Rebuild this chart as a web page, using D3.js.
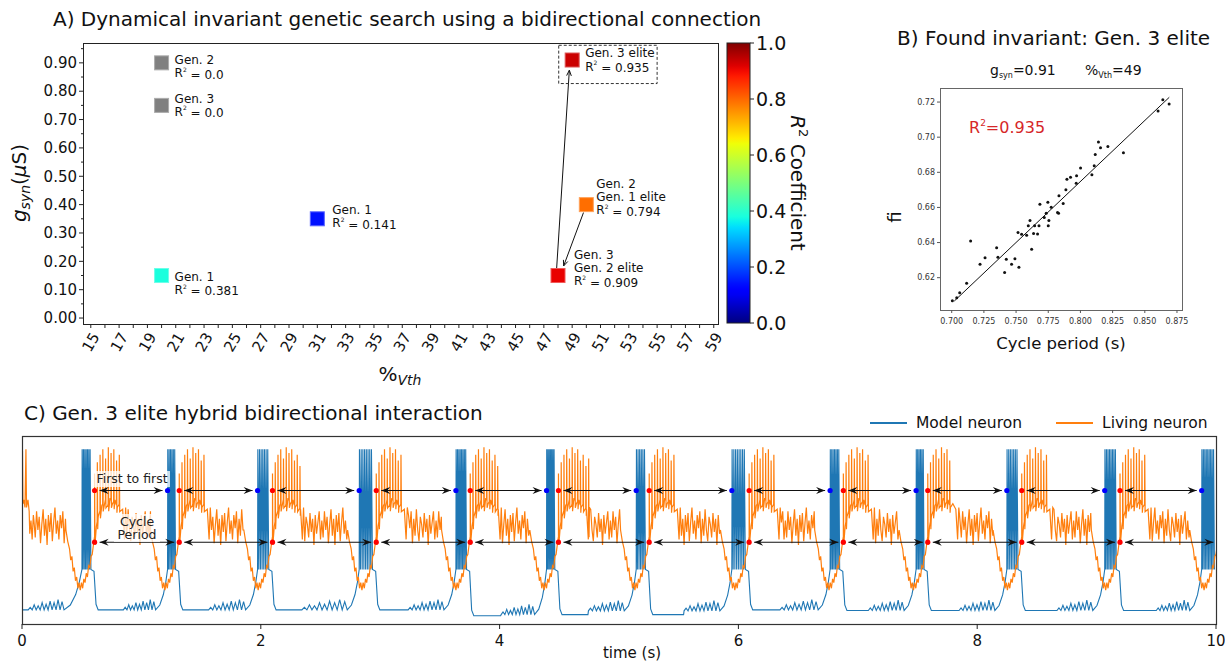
<!DOCTYPE html>
<html>
<head>
<meta charset="utf-8">
<script src="https://d3js.org/d3.v7.min.js"></script>
<style>
  body { margin: 0; background: #fff; }
  svg text { font-family: "DejaVu Sans", sans-serif; fill: #111; }
</style>
</head>
<body>
<svg id="fig" width="1225" height="663"></svg>
<script>
// ---------------- A) genetic search ----------------
const genNames = ["Gen. 2", "Gen. 3", "Gen. 1", "Gen. 1", "Gen. 2|Gen. 1 elite", "Gen. 3|Gen. 2 elite", "Gen. 3 elite"];
const vthPct = [20, 20, 20, 31, 50, 48, 49];
const gSyn = [0.90, 0.75, 0.15, 0.35, 0.40, 0.15, 0.91];
const r2 = [0.0, 0.0, 0.381, 0.141, 0.794, 0.909, 0.935];
const vthTicks = d3.range(15, 60, 1);
const gTicks = [0, 0.1, 0.2, 0.3, 0.4, 0.5, 0.6, 0.7, 0.8, 0.9];
const gMinor = [0.05, 0.15, 0.25, 0.35, 0.45, 0.55, 0.65, 0.75, 0.85, 0.95];
const cbTicks = [0, 0.2, 0.4, 0.6, 0.8, 1.0];
const searchArrows = [[[49.8, 0.372], [48.4, 0.184]], [[47.9, 0.173], [48.8, 0.874]]];
const eliteBox = [48.05, 0.827, 55.0, 0.962];
// label offsets in px: [dx, dy of first line]
const labelOffsets = [[13, -3], [13, -7], [13, 1], [15, -9], [10, -21], [16, -21], [13, -7]];

// ---------------- B) invariant ----------------
const cyclePeriod = [0.7005, 0.7039, 0.7062, 0.7116, 0.7147, 0.7220, 0.7259, 0.7349, 0.7359, 0.7411,
  0.7424, 0.7465, 0.7491, 0.7522, 0.7515, 0.7543, 0.7582, 0.7595, 0.7608, 0.7621,
  0.7636, 0.7644, 0.7667, 0.7678, 0.7685, 0.7719, 0.7734, 0.7747, 0.7750, 0.7755,
  0.7773, 0.7822, 0.7830, 0.7833, 0.7866, 0.7887, 0.7895, 0.7923, 0.7970, 0.7967,
  0.8001, 0.8089, 0.8107, 0.8115, 0.8140, 0.8156, 0.8213, 0.8334, 0.8603, 0.8640, 0.8689];
const fiValues = [0.6069, 0.6086, 0.6114, 0.6168, 0.6409, 0.6276, 0.6314, 0.6371, 0.6316, 0.6230,
  0.6305, 0.6276, 0.6308, 0.6259, 0.6457, 0.6447, 0.6441, 0.6495, 0.6525, 0.6362,
  0.6451, 0.6495, 0.6449, 0.6495, 0.6618, 0.6542, 0.6567, 0.6630, 0.6495, 0.6525,
  0.6601, 0.6571, 0.6567, 0.6666, 0.6622, 0.6700, 0.6761, 0.6772, 0.6780, 0.6738,
  0.6824, 0.6786, 0.6837, 0.6902, 0.6972, 0.6940, 0.6947, 0.6911, 0.7149, 0.7213, 0.7189];
const fitX = [0.702, 0.869];
const fitY = [0.6067, 0.7227];
const periodTicks = [0.700, 0.725, 0.750, 0.775, 0.800, 0.825, 0.850, 0.875];
const fiTicks = [0.62, 0.64, 0.66, 0.68, 0.70, 0.72];

// ---------------- C) hybrid interaction ----------------
const modelFirstBurst = 0.502;
const modelFirstSpikes = [1.219, 1.973, 2.824, 3.634, 4.393, 5.144, 5.945, 6.768, 7.488, 8.248, 9.068, 9.880];
const livingFirstSpikes = [0.608, 1.317, 2.098, 2.967, 3.754, 4.493, 5.253, 6.090, 6.879, 7.586, 8.373, 9.196];
const livingNextOnset = 10.02;
const modelSpikeCount = [7, 6, 7, 8, 8, 7, 6, 8, 7, 6, 7, 8, 9];
const modelWiggleLead = [0.45, 0.37, 0.41, 0.48, 0.40, 0.38, 0.40, 0.40, 0.42, 0.40, 0.40, 0.40, 0.38];
const modelRampLead = [0.15, 0.10, 0.10, 0.10, 0.10, 0.10, 0.10, 0.10, 0.10, 0.10, 0.10, 0.10, 0.10];
const modelWiggleBase = [0.075, 0.075, 0.075, 0.075, 0.075, 0.05, 0.07, 0.07, 0.075, 0.072, 0.072, 0.072, 0.072];
const modelRestAfter = [0.075, 0.075, 0.075, 0.075, 0.044, 0.05, 0.05, 0.075, 0.072, 0.072, 0.072, 0.072];
const modelWiggleAmp = [0.25, 0.5, 0.4, 0.7, 0.55, 0.85, 0.7, 1.0, 0.8];
const modelRamp = [[0, 0], [0.35, 0.12], [0.65, 0.38], [0.85, 0.68], [1, 1]];
const livingStart = [[0, 0.62], [0.004, 0.92], [0.008, 0.64], [0.015, 0.66], [0.025, 0.62], [0.033, 0.93],
  [0.038, 0.62], [0.05, 0.66], [0.06, 0.6], [0.065, 0.48], [0.075, 0.55], [0.085, 0.45], [0.095, 0.58]];
const livingApproach = [[-0.24, 0.50], [-0.225, 0.44], [-0.21, 0.40], [-0.20, 0.34], [-0.19, 0.36], [-0.18, 0.28],
  [-0.17, 0.30], [-0.16, 0.23], [-0.15, 0.25], [-0.14, 0.19], [-0.13, 0.22], [-0.12, 0.18], [-0.11, 0.22],
  [-0.10, 0.19], [-0.09, 0.24], [-0.08, 0.22], [-0.07, 0.27], [-0.06, 0.25], [-0.05, 0.31], [-0.04, 0.30],
  [-0.03, 0.36], [-0.02, 0.37], [-0.01, 0.42], [0, 0.46], [0.015, 0.52], [0.03, 0.57], [0.045, 0.60], [0.06, 0.63]];
const livingBurstBase = [[0, 0.46], [0.03, 0.57], [0.06, 0.63], [0.09, 0.66], [0.11, 0.63], [0.13, 0.67],
  [0.15, 0.64], [0.17, 0.66], [0.19, 0.62], [0.21, 0.64], [0.235, 0.61], [0.25, 0.45], [0.26, 0.62]];
const livingSpikeCount = [10, 10, 11, 10, 11, 12, 10, 10, 10, 9, 10, 10];
const livingSpikeTop = [0.80, 0.86, 0.90, 0.93, 0.88, 0.94, 0.91, 0.93, 0.87, 0.90, 0.84, 0.88];
const livingNoise = [0.3, -0.6, 0.8, -0.2, 0.5, -0.9, 0.1, 0.9, -0.5, 0.4, -1.0, 0.6, -0.3, 0.7, -0.8, 0.2,
  1.0, -0.4, 0.3, -0.7, 0.6, -0.1, 0.8, -0.9, 0.4, -0.5, 0.9, -0.2, -0.8, 0.5, 0.1, -0.6, 0.7, -0.3, 0.4,
  -1.0, 0.6, -0.4, 0.2, 0.8, -0.7];
const timeTicks = [0, 2, 4, 6, 8, 10];

const svg = d3.select("#fig");

// jet colormap from matplotlib segment data
const jetR = d3.scaleLinear().domain([0, 0.35, 0.66, 0.89, 1]).range([0, 0, 1, 1, 0.5]).clamp(true);
const jetG = d3.scaleLinear().domain([0, 0.125, 0.375, 0.64, 0.91, 1]).range([0, 0, 1, 1, 0, 0]).clamp(true);
const jetB = d3.scaleLinear().domain([0, 0.11, 0.34, 0.65, 1]).range([0.5, 1, 1, 0, 0]).clamp(true);
const jet = v => d3.rgb(jetR(v) * 255, jetG(v) * 255, jetB(v) * 255).formatHex();

// ================= panel A =================
const A = {x0: 83, x1: 718, y0: 43, y1: 324};
const xA = d3.scaleLinear().domain([14.45, 59.3]).range([A.x0, A.x1]);
const yA = d3.scaleLinear().domain([-0.021, 0.97]).range([A.y1, A.y0]);
const gA = svg.append("g");

gA.append("text").attr("x", 53).attr("y", 26).attr("font-size", 20)
  .text("A) Dynamical invariant genetic search using a bidirectional connection");

gA.append("rect").attr("x", A.x0 + 0.5).attr("y", A.y0 + 0.5)
  .attr("width", A.x1 - A.x0).attr("height", A.y1 - A.y0)
  .attr("fill", "none").attr("stroke", "#222").attr("stroke-width", 1);

gTicks.forEach(v => {
  gA.append("line").attr("x1", A.x0).attr("x2", A.x0 - 4).attr("y1", yA(v)).attr("y2", yA(v)).attr("stroke", "#222");
  gA.append("text").attr("x", A.x0 - 6).attr("y", yA(v)).attr("dy", "0.35em").attr("text-anchor", "end")
    .attr("font-size", 15).text(v.toFixed(2));
});
gMinor.forEach(v => {
  gA.append("line").attr("x1", A.x0).attr("x2", A.x0 - 2).attr("y1", yA(v)).attr("y2", yA(v)).attr("stroke", "#222");
});
vthTicks.forEach(v => {
  gA.append("line").attr("x1", xA(v)).attr("x2", xA(v)).attr("y1", A.y1).attr("y2", A.y1 + 4).attr("stroke", "#222");
  if (v % 2 === 1) {
    gA.append("text").attr("transform", `translate(${xA(v)},${A.y1 + 18}) rotate(-60)`)
      .attr("text-anchor", "middle").attr("dy", "0.35em").attr("font-size", 15).text(v);
  }
});

// axis labels
const xl = gA.append("text").attr("x", 400).attr("y", 381).attr("text-anchor", "middle").attr("font-size", 20);
xl.append("tspan").text("%");
xl.append("tspan").attr("font-style", "italic").attr("font-size", 14).attr("dy", 4).text("Vth");
const yl = gA.append("text").attr("transform", "translate(26,183) rotate(-90)").attr("text-anchor", "middle").attr("font-size", 20);
yl.append("tspan").attr("font-style", "italic").text("g");
yl.append("tspan").attr("font-style", "italic").attr("font-size", 14).attr("dy", 4).text("syn");
yl.append("tspan").attr("dy", -4).text("(");
yl.append("tspan").attr("font-style", "italic").text("μ");
yl.append("tspan").text("S)");

// arrows
searchArrows.forEach(([f, t]) => {
  const x1 = xA(f[0]), y1 = yA(f[1]), x2 = xA(t[0]), y2 = yA(t[1]);
  const ang = Math.atan2(y2 - y1, x2 - x1);
  const hl = 6, ha = 0.4;
  gA.append("line").attr("x1", x1).attr("y1", y1).attr("x2", x2).attr("y2", y2).attr("stroke", "#111").attr("stroke-width", 1);
  gA.append("path").attr("fill", "none").attr("stroke", "#111").attr("stroke-width", 1)
    .attr("d", `M${x2 - hl * Math.cos(ang - ha)},${y2 - hl * Math.sin(ang - ha)}L${x2},${y2}L${x2 - hl * Math.cos(ang + ha)},${y2 - hl * Math.sin(ang + ha)}`);
});

// elite box
gA.append("rect").attr("x", xA(eliteBox[0])).attr("y", yA(eliteBox[3]))
  .attr("width", xA(eliteBox[2]) - xA(eliteBox[0])).attr("height", yA(eliteBox[1]) - yA(eliteBox[3]))
  .attr("fill", "none").attr("stroke", "#333").attr("stroke-width", 1).attr("stroke-dasharray", "3,2");

// squares and labels
genNames.forEach((name, i) => {
  const fill = r2[i] === 0 ? "#808080" : jet(r2[i]);
  const cx = xA(vthPct[i]), cy = yA(gSyn[i]);
  gA.append("rect").attr("x", cx - 7).attr("y", cy - 7).attr("width", 14).attr("height", 14)
    .attr("fill", fill).attr("stroke", d3.interpolateRgb(fill, "#fff")(0.35)).attr("stroke-width", 1);
  const lines = name.split("|");
  const [dx, dy] = labelOffsets[i];
  const t = gA.append("text").attr("font-size", 12);
  lines.forEach((ln, k) => {
    t.append("tspan").attr("x", cx + dx).attr("y", cy + dy + k * 13.3).attr("dy", "0.35em").text(ln);
  });
  const ry = cy + dy + lines.length * 13.3;
  const rt = gA.append("text").attr("font-size", 12).attr("x", cx + dx).attr("y", ry).attr("dy", "0.35em");
  rt.append("tspan").text("R");
  rt.append("tspan").attr("font-size", 6).attr("dy", "-0.9em").text("2");
  rt.append("tspan").attr("dy", "0.55em").text(" = " + (r2[i] === 0 ? "0.0" : String(r2[i])));
});

// colorbar
const CB = {x0: 727, x1: 750, y0: 43, y1: 323};
const yCB = d3.scaleLinear().domain([0, 1]).range([CB.y1, CB.y0]);
const grad = svg.append("defs").append("linearGradient").attr("id", "jetgrad")
  .attr("x1", 0).attr("y1", 1).attr("x2", 0).attr("y2", 0);
d3.range(0, 1.0001, 0.02).forEach(v => grad.append("stop").attr("offset", v).attr("stop-color", jet(v)));
gA.append("rect").attr("x", CB.x0).attr("y", CB.y0).attr("width", CB.x1 - CB.x0).attr("height", CB.y1 - CB.y0)
  .attr("fill", "url(#jetgrad)").attr("stroke", "#222").attr("stroke-width", 1);
cbTicks.forEach(v => {
  gA.append("line").attr("x1", CB.x1).attr("x2", CB.x1 + 4).attr("y1", yCB(v)).attr("y2", yCB(v)).attr("stroke", "#222");
  gA.append("text").attr("x", CB.x1 + 6).attr("y", yCB(v)).attr("dy", "0.35em").attr("font-size", 19).text(v.toFixed(1));
});
const cbl = gA.append("text").attr("transform", "translate(791,183) rotate(90)").attr("text-anchor", "middle").attr("font-size", 20);
cbl.append("tspan").attr("font-style", "italic").text("R");
cbl.append("tspan").attr("font-size", 13).attr("dy", -8).text("2");
cbl.append("tspan").attr("dy", 8).text(" Coefficient");

// ================= panel B =================
const B = {x0: 940, x1: 1182, y0: 88, y1: 310};
const xB = d3.scaleLinear().domain([0.6909, 0.8789]).range([B.x0, B.x1]);
const yB = d3.scaleLinear().domain([0.6016, 0.728]).range([B.y1, B.y0]);
const gB = svg.append("g");
gB.append("text").attr("x", 897).attr("y", 45).attr("font-size", 20).text("B) Found invariant: Gen. 3 elite");
const sub = gB.append("text").attr("x", 990).attr("y", 75).attr("font-size", 14);
sub.append("tspan").text("g");
sub.append("tspan").attr("font-size", 8).attr("dy", 3).text("syn");
sub.append("tspan").attr("dy", -3).text("=0.91");
const sub2 = gB.append("text").attr("x", 1085).attr("y", 75).attr("font-size", 14);
sub2.append("tspan").text("%");
sub2.append("tspan").attr("font-size", 8).attr("dy", 3).text("Vth");
sub2.append("tspan").attr("dy", -3).text("=49");

gB.append("rect").attr("x", B.x0 + 0.5).attr("y", B.y0 + 0.5).attr("width", B.x1 - B.x0).attr("height", B.y1 - B.y0)
  .attr("fill", "none").attr("stroke", "#666").attr("stroke-width", 1);
periodTicks.forEach(v => {
  gB.append("line").attr("x1", xB(v)).attr("x2", xB(v)).attr("y1", B.y1).attr("y2", B.y1 + 3).attr("stroke", "#555");
  gB.append("text").attr("x", xB(v)).attr("y", B.y1 + 14).attr("text-anchor", "middle").attr("font-size", 8)
    .style("fill", "#333").text(v.toFixed(3));
});
fiTicks.forEach(v => {
  gB.append("line").attr("x1", B.x0).attr("x2", B.x0 - 3).attr("y1", yB(v)).attr("y2", yB(v)).attr("stroke", "#555");
  gB.append("text").attr("x", B.x0 - 5).attr("y", yB(v)).attr("dy", "0.35em").attr("text-anchor", "end").attr("font-size", 8)
    .style("fill", "#333").text(v.toFixed(2));
});
gB.append("line").attr("x1", xB(fitX[0])).attr("y1", yB(fitY[0])).attr("x2", xB(fitX[1])).attr("y2", yB(fitY[1]))
  .attr("stroke", "#111").attr("stroke-width", 1);
gB.selectAll("circle.pt").data(cyclePeriod).join("circle").attr("class", "pt")
  .attr("cx", (d, i) => xB(d)).attr("cy", (d, i) => yB(fiValues[i])).attr("r", 1.5).attr("fill", "#111");
const r2t = gB.append("text").attr("x", 969).attr("y", 133).attr("font-size", 16).style("fill", "#d62728");
r2t.append("tspan").style("fill", "#d62728").text("R");
r2t.append("tspan").style("fill", "#d62728").attr("font-size", 9).attr("dy", -7).text("2");
r2t.append("tspan").style("fill", "#d62728").attr("dy", 7).text("=0.935");
gB.append("text").attr("transform", "translate(901,217) rotate(-90)").attr("text-anchor", "middle").attr("font-size", 18).text("fi");
gB.append("text").attr("x", 1061).attr("y", 349).attr("text-anchor", "middle").attr("font-size", 16.5).text("Cycle period (s)");

// ================= panel C =================
const C = {x0: 22, x1: 1216, y0: 436, y1: 624};
const xC = d3.scaleLinear().domain([0, 10]).range([C.x0, C.x1]);
const yC = d3.scaleLinear().domain([0, 1]).range([C.y1, C.y0]);
const gC = svg.append("g");
gC.append("text").attr("x", 24).attr("y", 420).attr("font-size", 20).text("C) Gen. 3 elite hybrid bidirectional interaction");

svg.select("defs").append("clipPath").attr("id", "clipC").append("rect")
  .attr("x", C.x0).attr("y", C.y0).attr("width", C.x1 - C.x0).attr("height", C.y1 - C.y0);

// model neuron trace
function buildModel() {
  const pts = [[0, modelWiggleBase[0]]];
  const bursts = [modelFirstBurst, ...modelFirstSpikes];
  bursts.forEach((b, i) => {
    const ws = b - modelWiggleLead[i], we = b - modelRampLead[i], base = modelWiggleBase[i];
    if (i > 0) pts.push([ws - 0.004, modelRestAfter[i - 1]]);
    pts.push([ws, base]);
    const n = modelWiggleAmp.length, per = (we - ws) / n;
    modelWiggleAmp.forEach((a, k) => {
      pts.push([ws + (k + 0.5) * per, base + a * 0.055]);
      pts.push([ws + (k + 1) * per, base]);
    });
    const floor = 0.29;
    modelRamp.forEach(([f, v]) => pts.push([we + f * (b - we), base + v * (floor - base)]));
    const L = i < livingFirstSpikes.length ? livingFirstSpikes[i] : 10.1;
    const end = i < livingFirstSpikes.length ? L - 0.028 : 9.99;
    const ns = modelSpikeCount[i], dt = (end - b) / ns;
    for (let k = 0; k < ns; k++) {
      const ts = b + k * dt;
      pts.push([ts + dt * 0.15, 0.93]);
      pts.push([ts + dt * 0.75, floor]);
    }
    if (i < livingFirstSpikes.length) {
      pts.push([L - 0.005, 0.28]);
      pts.push([L + 0.012, modelRestAfter[i] + 0.03]);
      pts.push([L + 0.03, modelRestAfter[i]]);
    }
  });
  return pts;
}

// living neuron trace
function buildLiving() {
  const pts = livingStart.map(d => [d[0], d[1]]);
  const onsets = [...livingFirstSpikes, livingNextOnset];
  let ni = 0;
  const noisy = (t0, t1) => {
    for (let t = t0; t < t1; t += 0.011) {
      pts.push([t, 0.52 + livingNoise[ni % livingNoise.length] * 0.1]);
      ni++;
    }
  };
  noisy(0.1, onsets[0] - 0.24);
  const base = d3.scaleLinear().domain(livingBurstBase.map(d => d[0])).range(livingBurstBase.map(d => d[1]));
  onsets.forEach((L, i) => {
    livingApproach.forEach(d => pts.push([L + d[0], d[1]]));
    if (i >= onsets.length - 1) return;
    livingBurstBase.slice(3).forEach(d => pts.push([L + d[0], d[1]]));
    for (let k = 0; k < livingSpikeCount[i]; k++) {
      const rt = k * 0.023;
      pts.push([L + rt - 0.0015, base(rt)]);
      pts.push([L + rt, livingSpikeTop[k % livingSpikeTop.length]]);
      pts.push([L + rt + 0.003, base(rt) - 0.04]);
    }
    noisy(L + 0.27, onsets[i + 1] - 0.24);
  });
  pts.sort((a, b) => a[0] - b[0]);
  return pts;
}

const lineC = d3.line().x(d => xC(d[0])).y(d => yC(d[1]));
const traces = gC.append("g").attr("clip-path", "url(#clipC)");
traces.append("path").attr("d", lineC(buildModel())).attr("fill", "none").attr("stroke", "#1f77b4").attr("stroke-width", 1.1);
traces.append("path").attr("d", lineC(buildLiving())).attr("fill", "none").attr("stroke", "#ff7f0e").attr("stroke-width", 1.2);

// arrows
const rowTop = 0.71, rowBot = 0.435;
function dblArrow(t1, t2, yv) {
  const y = yC(yv), gap = 5;
  const xa = xC(t1) + gap, xb = xC(t2) - gap;
  traces.append("line").attr("x1", xa).attr("x2", xb).attr("y1", y).attr("y2", y).attr("stroke", "#111").attr("stroke-width", 1.1);
  const head = (x, dir) => `M${x},${y}L${x - dir * 9},${y - 3.5}L${x - dir * 6},${y}L${x - dir * 9},${y + 3.5}Z`;
  traces.append("path").attr("d", head(xa, -1) + head(xb, 1)).attr("fill", "#111");
}
livingFirstSpikes.forEach((L, i) => {
  dblArrow(L, modelFirstSpikes[i], rowTop);
  dblArrow(L, i + 1 < livingFirstSpikes.length ? livingFirstSpikes[i + 1] : livingNextOnset, rowBot);
});
traces.selectAll("circle.m").data(modelFirstSpikes).join("circle").attr("class", "m")
  .attr("cx", d => xC(d)).attr("cy", yC(rowTop)).attr("r", 2.6).attr("fill", "blue");
traces.selectAll("circle.lt").data(livingFirstSpikes).join("circle").attr("class", "lt")
  .attr("cx", d => xC(d)).attr("cy", yC(rowTop)).attr("r", 2.6).attr("fill", "red");
traces.selectAll("circle.lb").data(livingFirstSpikes).join("circle").attr("class", "lb")
  .attr("cx", d => xC(d)).attr("cy", yC(rowBot)).attr("r", 2.6).attr("fill", "red");

// annotation labels
const lab1 = gC.append("g");
lab1.append("rect").attr("x", 94).attr("y", 471).attr("width", 76).attr("height", 16).attr("fill", "#fff").attr("opacity", 0.75);
lab1.append("text").attr("x", 132).attr("y", 479).attr("dy", "0.35em").attr("text-anchor", "middle").attr("font-size", 12.5)
  .style("fill", "#222").text("First to first");
const lab2 = gC.append("g");
lab2.append("rect").attr("x", 114).attr("y", 514).attr("width", 46).attr("height", 28).attr("fill", "#fff").attr("opacity", 0.75);
lab2.append("text").attr("x", 137).attr("y", 521.5).attr("dy", "0.35em").attr("text-anchor", "middle").attr("font-size", 12.5)
  .style("fill", "#222").text("Cycle");
lab2.append("text").attr("x", 137).attr("y", 534.5).attr("dy", "0.35em").attr("text-anchor", "middle").attr("font-size", 12.5)
  .style("fill", "#222").text("Period");

// frame + x axis
gC.append("rect").attr("x", C.x0 + 0.5).attr("y", C.y0 + 0.5).attr("width", C.x1 - C.x0).attr("height", C.y1 - C.y0)
  .attr("fill", "none").attr("stroke", "#333").attr("stroke-width", 1.2);
timeTicks.forEach(v => {
  gC.append("line").attr("x1", xC(v)).attr("x2", xC(v)).attr("y1", C.y1).attr("y2", C.y1 + 5).attr("stroke", "#222");
  gC.append("text").attr("x", xC(v)).attr("y", 646).attr("text-anchor", "middle").attr("font-size", 15).text(v);
});
gC.append("text").attr("x", 632).attr("y", 658).attr("text-anchor", "middle").attr("font-size", 15).text("time (s)");

// legend
const legend = [["Model neuron", "#1f77b4", 870], ["Living neuron", "#ff7f0e", 1056]];
legend.forEach(([name, col, x]) => {
  gC.append("line").attr("x1", x).attr("x2", x + 37).attr("y1", 423).attr("y2", 423).attr("stroke", col).attr("stroke-width", 2);
  gC.append("text").attr("x", x + 46).attr("y", 428).attr("font-size", 15.5).text(name);
});
</script>
</body>
</html>
